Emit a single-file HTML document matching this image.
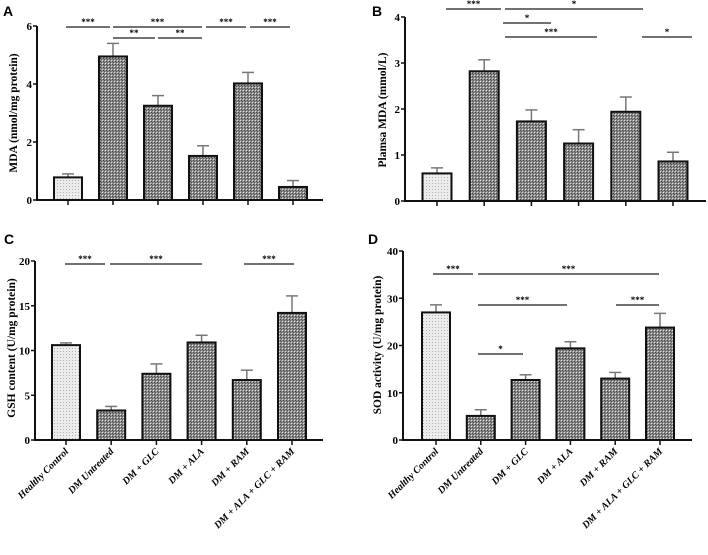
<!DOCTYPE html>
<html><head><meta charset="utf-8"><style>
html,body{margin:0;padding:0;background:#fff;width:708px;height:555px;overflow:hidden}
svg{display:block}
text{font-family:"Liberation Serif",serif}
</style></head><body>
<svg id="fig" width="708" height="555">
<defs>
<pattern id="light" width="3" height="3" patternUnits="userSpaceOnUse"><rect width="3" height="3" fill="#ececec"/><rect width="1" height="1" fill="#b0b0b0"/></pattern>
<pattern id="dark" width="3" height="3" patternUnits="userSpaceOnUse"><rect width="3" height="3" fill="#8c8c8c"/><rect width="1" height="1" fill="#e0e0e0"/><rect x="1" y="1" width="1" height="1" fill="#444"/><rect x="2" y="2" width="1" height="1" fill="#555"/></pattern>
</defs>
</svg>
<script>
const categories=["Healthy Control","DM Untreated","DM + GLC","DM + ALA","DM + RAM","DM + ALA + GLC + RAM"];
const valuesA=[0.78,4.95,3.25,1.52,4.02,0.45];
const errorsA=[0.12,0.45,0.35,0.35,0.38,0.22];
const ticksA=[0,2,4,6];
const valuesB=[0.6,2.82,1.73,1.25,1.94,0.86];
const errorsB=[0.12,0.25,0.25,0.3,0.32,0.2];
const ticksB=[0,1,2,3,4];
const valuesC=[10.6,3.3,7.4,10.9,6.7,14.2];
const errorsC=[0.25,0.45,1.1,0.8,1.1,1.9];
const ticksC=[0,5,10,15,20];
const valuesD=[27,5.1,12.7,19.4,13,23.8];
const errorsD=[1.6,1.3,1.1,1.4,1.3,3];
const ticksD=[0,10,20,30,40];
const NS="http://www.w3.org/2000/svg";
const svg=document.getElementById('fig');
function el(tag,attrs,parent){const e=document.createElementNS(NS,tag);for(const k in attrs)e.setAttribute(k,attrs[k]);(parent||svg).appendChild(e);return e;}
const panels=[
 {id:'a',letter:'A',lx:3,ly:16,vals:valuesA,errs:errorsA,ticks:ticksA,max:6,ax:37,x1:323,y0:200,yTop:26,cx0:68,dx:45,bw:28,title:'MDA (nmol/mg  protein)',tx:17,ty:113,
  sig:[[66,110,27,'***'],[113,202,27,'***'],[206,246,27,'***'],[250,290,27,'***'],[113,155,38,'**'],[158,202,38,'**']],labels:false},
 {id:'b',letter:'B',lx:372,ly:16,vals:valuesB,errs:errorsB,ticks:ticksB,max:4,ax:405,x1:706,y0:201,yTop:17,cx0:437,dx:47.2,bw:29,title:'Plamsa MDA (mmol/L)',tx:386,ty:110,
  sig:[[446,501,9,'***'],[505,643,9,'*'],[503,551,23,'*'],[505,597,37,'***'],[642,692,37,'*']],labels:false},
 {id:'c',letter:'C',lx:4,ly:244,vals:valuesC,errs:errorsC,ticks:ticksC,max:20,ax:35,x1:323,y0:440,yTop:261,cx0:66,dx:45.2,bw:28,title:'GSH content (U/mg protein)',tx:15,ty:348,
  sig:[[65,105,264,'***'],[110,202,264,'***'],[244,294,264,'***']],labels:true},
 {id:'d',letter:'D',lx:368,ly:244,vals:valuesD,errs:errorsD,ticks:ticksD,max:40,ax:403,x1:692,y0:440,yTop:251,cx0:436,dx:44.8,bw:28,title:'SOD activity (U/mg protein)',tx:381,ty:345,
  sig:[[433,473,274,'***'],[478,659,274,'***'],[478,567,305,'***'],[616,659,305,'***'],[478,523,354,'*']],labels:true}
];
panels.forEach(p=>{
 const g=el('g',{});
 
 
 const y=v=>p.y0-(v/p.max)*(p.y0-p.yTop);
 const x=i=>p.cx0+i*p.dx;
 const L=el('text',{x:p.lx,y:p.ly,'font-size':14,'font-weight':'bold',style:'font-family:"Liberation Sans",sans-serif'},g);L.textContent=p.letter;
 
 
 p.vals.forEach((v,i)=>{
  const e=el('line',{x1:x(i),x2:x(i),y1:y(v),y2:y(v+p.errs[i]),stroke:'#777','stroke-width':1.5},g);
  
  
  const c=el('line',{x1:x(i)-6,x2:x(i)+6,y1:y(v+p.errs[i]),y2:y(v+p.errs[i]),stroke:'#777','stroke-width':1.5},g);
  
  
  const b=el('rect',{x:x(i)-p.bw/2,y:y(v),width:p.bw,height:p.y0-y(v),fill:i===0?'url(#light)':'url(#dark)',stroke:'#111','stroke-width':2},g);
  
  
  const t=el('line',{x1:x(i),x2:x(i),y1:p.y0,y2:p.y0+5,stroke:'#111','stroke-width':1.5},g);
  
  
  if(p.labels){
   const lx=x(i)+3,ly=p.y0+12;
   const lt=el('text',{x:lx,y:ly,'font-size':10,'font-weight':'bold','font-style':'italic','text-anchor':'end',transform:`rotate(-45 ${lx} ${ly})`},g);
   lt.textContent=categories[i];
   
   
  }
 });
 const ya=el('line',{x1:p.ax,x2:p.ax,y1:p.yTop,y2:p.y0+1,stroke:'#111','stroke-width':2},g);
 
 
 const xa=el('line',{x1:p.ax-1,x2:p.x1,y1:p.y0,y2:p.y0,stroke:'#111','stroke-width':2},g);
 
 
 p.ticks.forEach(tv=>{
  const tk=el('line',{x1:p.ax-4,x2:p.ax,y1:y(tv),y2:y(tv),stroke:'#111','stroke-width':1.5},g);
  
  
  const tl=el('text',{x:p.ax-5,y:y(tv)+4,'font-size':11,'font-weight':'bold','text-anchor':'end'},g);
  tl.textContent=tv;
  
  
 });
 const tt=el('text',{x:p.tx,y:p.ty,'font-size':11.5,'font-weight':'bold','text-anchor':'middle',transform:`rotate(-90 ${p.tx} ${p.ty})`},g);
 tt.textContent=p.title;
 
 
 p.sig.forEach((s,k)=>{
  const sl=el('line',{x1:s[0],x2:s[1],y1:s[2],y2:s[2],stroke:'#444','stroke-width':1.5},g);
  
  
  const st=el('text',{x:(s[0]+s[1])/2,y:s[2]-2,'font-size':9,'font-weight':'bold','text-anchor':'middle'},g);
  st.textContent=s[3];
  
  
 });
});
</script>
</body></html>
